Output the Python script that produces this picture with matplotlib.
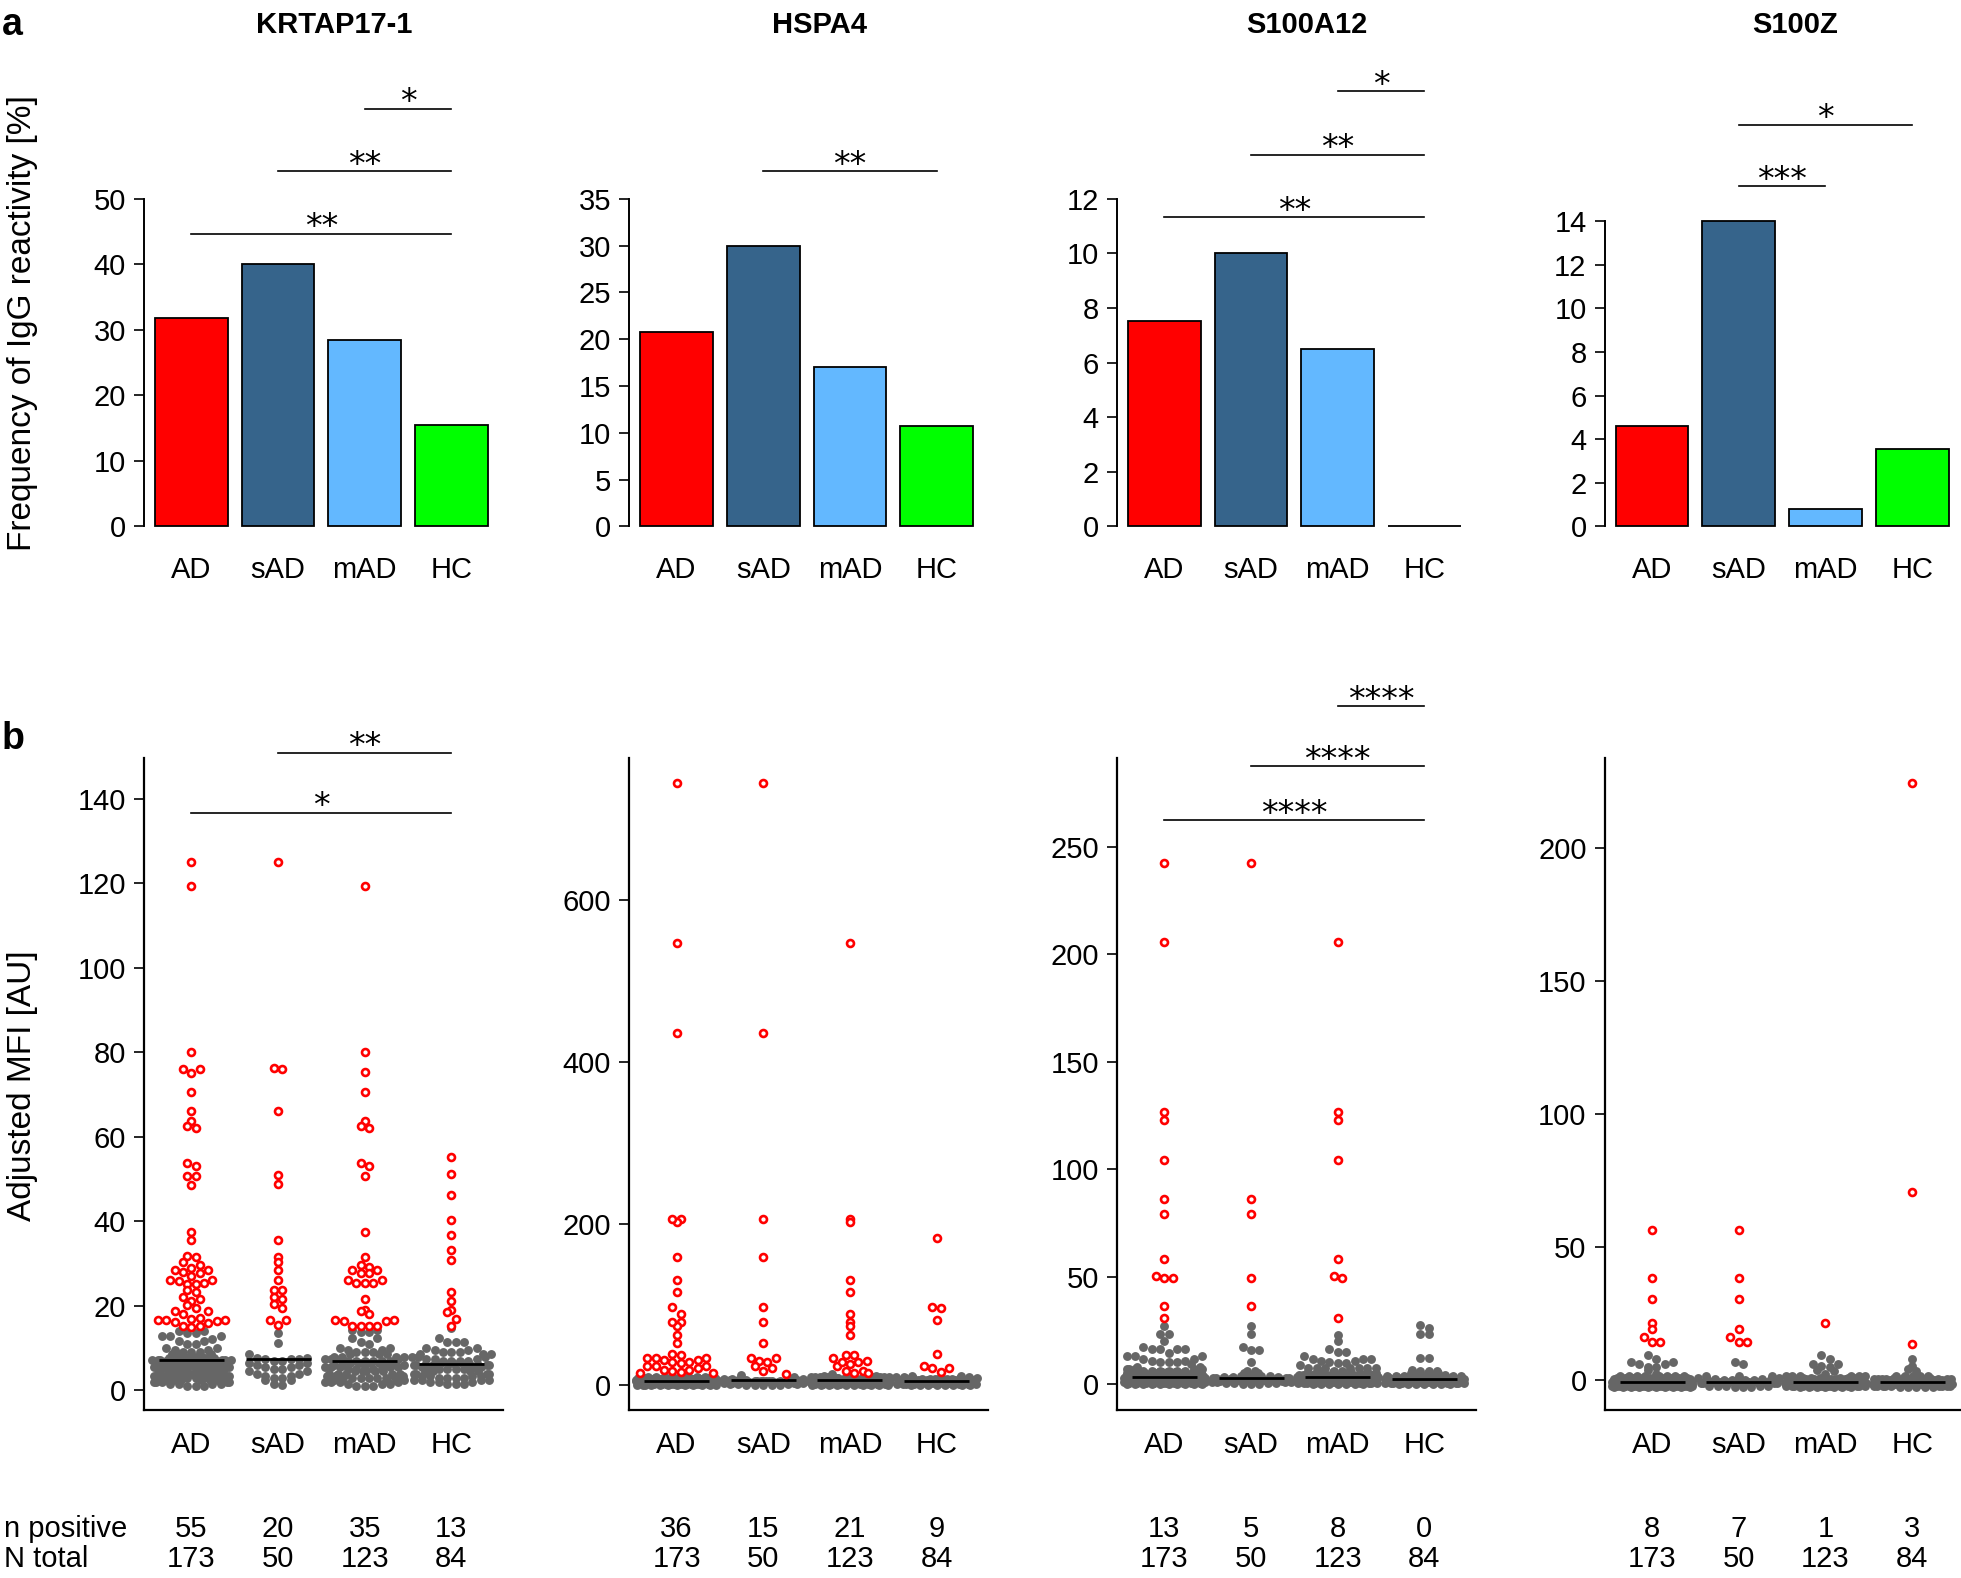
import numpy as np
import matplotlib
matplotlib.use("Agg")
import matplotlib.pyplot as plt
from matplotlib.transforms import blended_transform_factory

plt.rcParams['font.family'] = ['Liberation Sans', 'DejaVu Sans']

GROUPS = ["AD", "sAD", "mAD", "HC"]
PROTEINS = ["KRTAP17-1", "HSPA4", "S100A12", "S100Z"]
BAR_COLORS = ["#ff0000", "#36648b", "#63b8ff", "#00ff00"]

# positive sera (red rings), adjusted MFI per group
KRTAP_POS = [
    [125, 119.3, 80, 76, 75.2, 76, 70.6, 66, 63.7, 62.1, 62.5, 53.2, 53.8, 50.8, 50.8,
     48.6, 37.5, 35.6, 31.6, 31.7, 30.3, 29.6, 28.9, 28.6, 27.8, 28.0, 28.4, 27.0, 26.1,
     25.4, 26.1, 25.2, 25.2, 26.0, 23.7, 23.4, 22.0, 21.6, 21.2, 20.2, 19.4, 18.8, 18.8,
     18.0, 16.7, 16.4, 17.1, 16.1, 16.7, 16.9, 16.0, 16.6, 15.2, 15.2, 15.1],
    [125, 76, 76.2, 66, 51, 48.8, 35.6, 31.6, 30.3, 28.6, 26.1, 23.7, 23.7, 22, 21.6,
     20.4, 19.4, 16.7, 16.6, 15.4],
    [119.3, 80, 75.3, 70.6, 63.7, 62.1, 62.5, 53.2, 53.8, 50.8, 37.5, 31.6, 29.6, 28.6,
     28.6, 29.1, 27.8, 27.8, 26.1, 25.4, 25.4, 25.4, 26.1, 21.6, 19, 18.8, 18, 16.6, 16.5,
     16.5, 16.6, 15.2, 15.2, 15.2, 15.2],
    [55.2, 51.2, 46.3, 40.4, 36.8, 33.2, 30.9, 23.3, 21.2, 19.1, 18.5, 16.9, 15.2],
]
HSPA4_POS = [
    [744.8, 547.5, 436.5, 206, 202.2, 206, 158.6, 130.4, 115.5, 96.8, 88.6, 79, 73.8, 79,
     61.8, 52.3, 38.7, 37.9, 30.9, 27.6, 33.8, 33.8, 28.8, 33.8, 23.5, 21.4, 19.4, 19.4,
     23.5, 23.5, 28.8, 30.9, 15.2, 16.5, 17.3, 15.2],
    [744.8, 436.5, 206, 158.6, 96.8, 78.3, 52.3, 33.8, 30.5, 28.8, 33.8, 23.5, 18.5, 21.4, 14.4],
    [547.5, 206, 202.2, 130.4, 115.5, 88.6, 79, 73.8, 61.8, 37.9, 37.9, 34, 30.5, 28.4,
     26.8, 23.5, 18.5, 28.4, 16, 15.2, 17.3],
    [181.8, 97.6, 95.6, 81.2, 38.7, 23.5, 21.4, 21.4, 16.1],
]
S100A12_POS = [
    [242.3, 205.5, 126.5, 123, 104.2, 86.2, 79, 58.3, 50.2, 49.3, 49.6, 36.2, 30.7],
    [242.3, 86.2, 79, 49.6, 36.2],
    [205.5, 126.5, 123, 104.2, 58.3, 49.3, 50.2, 30.7],
    [],
]
S100Z_POS = [
    [56.3, 38.3, 30.6, 21.5, 19.3, 16.1, 14.4, 14.4],
    [56.3, 38.3, 30.6, 19.3, 16.1, 14.4, 14.4],
    [21.5],
    [224.4, 70.9, 13.6],
]

# negative sera (grey dots) read as (value, count) rows of the swarm
KRTAP_NEG = [
    [(1, 3), (1.5, 4), (2, 5), (2.5, 6), (3, 7), (3.5, 7), (4, 7), (4.5, 7), (5, 7), (5.5, 7),
     (6, 7), (6.5, 7), (7, 7), (7.3, 6), (7.6, 5), (8, 4), (8.5, 3), (9, 3), (9.5, 2), (10, 2),
     (11, 2), (11.6, 2), (12.2, 1), (12.9, 3), (13.5, 2), (14.1, 2)],
    [(1.3, 1), (1.5, 1), (2.5, 2), (3, 2), (3.5, 2), (4, 2), (4.5, 2), (5, 2), (5.5, 2), (6, 2),
     (6.5, 2), (7, 2), (7.4, 3), (7.7, 2), (8.5, 1), (11.2, 1), (13.6, 1)],
    [(1, 3), (1.5, 3), (2, 4), (2.5, 5), (3, 5), (3.5, 5), (4, 5), (4.5, 5), (5, 5), (5.5, 5),
     (6, 5), (6.5, 6), (7, 6), (7.5, 4), (8, 4), (8.5, 3), (9, 3), (9.5, 2), (10, 2), (11, 1),
     (11.5, 1), (12.5, 2), (13.8, 2), (14.3, 2)],
    [(1.5, 3), (2, 3), (2.5, 4), (3, 4), (3.5, 4), (4, 4), (4.5, 4), (5, 4), (5.5, 4), (6, 4),
     (6.1, 4), (6.5, 4), (7, 4), (7.5, 3), (8, 3), (8.5, 3), (9, 3), (9.5, 2), (10, 2),
     (11.5, 3), (12.4, 1), (14.7, 1)],
]
HSPA4_NEG = [
    [(0, 4), (1, 8), (2, 12), (3, 14), (4, 16), (5, 17), (6, 17), (7, 16), (8, 14), (9, 10),
     (10, 6), (11, 3)],
    [(0, 2), (1, 3), (2, 4), (3, 4), (4, 4), (5, 4), (6, 4), (7, 5), (8, 3), (10, 1), (13, 1)],
    [(0, 4), (1, 6), (2, 8), (3, 9), (4, 10), (5, 11), (6, 12), (7, 12), (8, 11), (9, 8),
     (10, 5), (11, 3), (12, 2), (14, 1)],
    [(0, 3), (1, 5), (2, 7), (3, 8), (4, 9), (5, 9), (6, 9), (7, 8), (8, 7), (9, 5), (10, 3),
     (12, 2)],
]
S100A12_NEG = [
    [(0, 10), (0.5, 10), (1, 13), (1.5, 13), (2, 13), (2.5, 12), (3, 11), (3.5, 10), (4, 10),
     (4.5, 9), (5, 8), (5.5, 7), (6, 6), (7, 5), (7.9, 2), (9.5, 1), (10.1, 1), (10.2, 2),
     (10.8, 2), (11.6, 2), (12.9, 3), (14.7, 1), (16.3, 4), (17.5, 1), (20.0, 1), (23.2, 2),
     (27.1, 1)],
    [(0, 3), (0.5, 4), (1, 4), (1.5, 4), (2, 4), (2.5, 4), (3, 4), (3.5, 3), (4, 3), (4.5, 2),
     (5, 2), (6, 2), (10.1, 1), (15.7, 2), (17.5, 1), (23.2, 1), (27.1, 1)],
    [(0, 7), (0.5, 8), (1, 9), (1.5, 9), (2, 9), (2.5, 9), (3, 9), (3.5, 8), (4, 8), (4.5, 6),
     (5, 5), (5.5, 4), (6, 2), (7.4, 7), (9.0, 1), (9.8, 2), (10.5, 1), (10.8, 2), (11.8, 3),
     (12.9, 1), (15, 2), (16.3, 1), (20.1, 1), (22.9, 1)],
    [(0, 7), (0.5, 8), (1, 8), (1.5, 8), (2, 8), (2.5, 8), (3, 7), (3.5, 6), (4, 5), (4.5, 4),
     (5, 3), (5.1, 2), (6, 3), (6.7, 1), (12.4, 2), (23.2, 2), (26.0, 1), (27.4, 1)],
]
S100Z_NEG = [
    [(-2.5, 10), (-2, 20), (-1.5, 25), (-1, 25), (-0.5, 25), (0, 20), (0.5, 12), (1, 10),
     (1.5, 8), (2.4, 1), (3.9, 1), (4.9, 1), (5.2, 1), (6.0, 2), (6.9, 2), (8.1, 1), (9.7, 1)],
    [(-2.5, 3), (-2, 5), (-1.5, 6), (-1, 6), (-0.5, 6), (0, 6), (0.5, 4), (1, 2), (1.5, 2),
     (1.8, 1), (6.2, 1), (7.0, 1)],
    [(-2.5, 7), (-2, 14), (-1.5, 18), (-1, 18), (-0.5, 18), (0, 15), (0.5, 10), (1, 7),
     (1.5, 6), (2.4, 1), (3.4, 1), (3.9, 1), (5.0, 1), (5.4, 1), (6.2, 2), (8.1, 1), (9.7, 1)],
    [(-2.5, 5), (-2, 9), (-1.5, 12), (-1, 12), (-0.5, 12), (0, 10), (0.5, 7), (1, 5), (1.5, 5),
     (3.4, 1), (4.4, 1), (5.4, 1), (8.1, 1)],
]

POS = [KRTAP_POS, HSPA4_POS, S100A12_POS, S100Z_POS]
NEG = [KRTAP_NEG, HSPA4_NEG, S100A12_NEG, S100Z_NEG]

# significance brackets: (group i, group j, label, height in axes fraction)
SIG_TOP = [
    [(0, 3, "**", 0.893), (1, 3, "**", 1.084), (2, 3, "*", 1.275)],
    [(1, 3, "**", 1.084)],
    [(0, 3, "**", 0.943), (1, 3, "**", 1.134), (2, 3, "*", 1.328)],
    [(1, 2, "***", 1.038), (1, 3, "*", 1.225)],
]
SIG_BOTTOM = [
    [(0, 3, "*", 0.916), (1, 3, "**", 1.008)],
    [],
    [(0, 3, "****", 0.904), (1, 3, "****", 0.987), (2, 3, "****", 1.079)],
    [],
]

TOP_TICKS = [np.arange(0, 51, 10), np.arange(0, 36, 5), np.arange(0, 13, 2), np.arange(0, 15, 2)]
TOP_YMAX = [50, 35, 12, 15.03]
BOT_TICKS = [np.arange(0, 141, 20), np.arange(0, 601, 200), np.arange(0, 251, 50), np.arange(0, 201, 50)]
BOT_YLIM = [(-4.74, 149.7), (-30.9, 776.3), (-12.2, 291.3), (-11.3, 233.8)]

DOT_PX = 8.4       # grid step of the swarm, px
CORRAL = 0.47      # half width of each group's corral, x units

GREY = "#666666"
FS = 21
STAR_FS = 24


def expand(rows):
    vals = [v for v, c in rows for _ in range(c)]
    return np.array(vals, dtype=float)


def center_swarm(ypx, y0, hw):
    """beeswarm 'center' layout: bin along y, centre each row, wrap at the corral"""
    xs = np.zeros(len(ypx))
    idx = np.round((ypx - y0) / DOT_PX).astype(int)
    for b in np.unique(idx):
        mem = np.where(idx == b)[0]
        mem = mem[np.argsort(ypx[mem], kind="stable")]
        k = len(mem)
        slots = (np.arange(k) - (k - 1) / 2.0) * DOT_PX
        slots = slots[np.lexsort((-np.sign(slots), np.abs(slots)))]
        xs[mem] = slots
    return ((xs + hw) % (2 * hw)) - hw


def add_sig(ax, sigs):
    tr = blended_transform_factory(ax.transData, ax.transAxes)
    for i, j, lab, yf in sigs:
        ax.plot([i + 1, j + 1], [yf, yf], color="black", lw=1.2, transform=tr, clip_on=False)
        ax.annotate(lab, xy=((i + j) / 2 + 1, yf), xycoords=tr, xytext=(0, -2.4),
                    textcoords="offset points", ha="center", va="baseline",
                    fontsize=STAR_FS, family="DejaVu Sans")


fig = plt.figure(figsize=(19.61, 15.78), dpi=100)

lefts = [115, 503, 893, 1283]
W, H = 1568.0, 1262.0
xlim = (0.452, 4.592)
xpos = np.arange(1, 5)

for p in range(4):
    left = lefts[p] / W
    width = 287 / W

    # ---- a: frequency bars ----
    ax = fig.add_axes([left, 1 - 421 / H, width, 262 / H])
    n_pos = np.array([len(g) for g in POS[p]])
    n_tot = np.array([len(g) + len(expand(r)) for g, r in zip(POS[p], NEG[p])])
    freq = 100.0 * n_pos / n_tot
    bars = ax.bar(xpos, freq, width=0.84, color=BAR_COLORS, edgecolor="black", linewidth=1.3)
    for b in bars:
        b.set_clip_on(False)
    ax.set_xlim(*xlim)
    ax.set_ylim(0, TOP_YMAX[p])
    ax.set_yticks(TOP_TICKS[p])
    ax.set_xticks(xpos, GROUPS)
    for s in ["top", "right", "bottom"]:
        ax.spines[s].set_visible(False)
    ax.spines["left"].set_bounds(0, TOP_TICKS[p][-1])
    ax.spines["left"].set_linewidth(1.4)
    ax.tick_params(axis="y", length=7, width=1.2, pad=6, labelsize=FS)
    ax.tick_params(axis="x", length=0, pad=21, labelsize=FS)
    add_sig(ax, SIG_TOP[p])
    ax.text(0.53, 1.53, PROTEINS[p], transform=ax.transAxes, ha="center", va="center",
            fontsize=FS, fontweight="bold")

    # ---- b: adjusted MFI swarm ----
    bx = fig.add_axes([left, 1 - 1128 / H, width, 522 / H])
    bx.set_xlim(*xlim)
    bx.set_ylim(*BOT_YLIM[p])
    bx.set_yticks(BOT_TICKS[p])
    bx.set_xticks(xpos, GROUPS)
    for s in ["top", "right"]:
        bx.spines[s].set_visible(False)
    for s in ["left", "bottom"]:
        bx.spines[s].set_linewidth(1.6)
    bx.tick_params(axis="y", length=7, width=1.2, pad=6, labelsize=FS)
    bx.tick_params(axis="x", length=0, pad=15, labelsize=FS)

    x_unit = bx.transData.transform([[1, 0]])[0, 0] - bx.transData.transform([[0, 0]])[0, 0]
    y0 = bx.transData.transform([[0, 0]])[0, 1]
    tr = blended_transform_factory(bx.transData, bx.transAxes)
    for g in range(4):
        pos = np.array(POS[p][g], dtype=float)
        neg = expand(NEG[p][g])
        vals = np.concatenate([pos, neg])
        red = np.concatenate([np.ones(len(pos), bool), np.zeros(len(neg), bool)])
        ypx = bx.transData.transform(np.column_stack([np.full(len(vals), g + 1.0), vals]))[:, 1]
        off = center_swarm(ypx, y0, CORRAL * x_unit) / x_unit
        med = np.median(vals)
        bx.plot(g + 1 + off[~red], vals[~red], "o", ms=6.4, color=GREY, mec="none",
                zorder=3, clip_on=False)
        bx.hlines(med, g + 1 - 0.375, g + 1 + 0.375, color="black", lw=2, zorder=3.5)
        bx.plot(g + 1 + off[red], vals[red], "o", ms=5.0, mfc="white", mec="#ff0000",
                mew=1.9, zorder=4, clip_on=False)
        bx.text(g + 1, -0.182, str(len(pos)), transform=tr, ha="center", va="center", fontsize=FS)
        bx.text(g + 1, -0.228, str(len(vals)), transform=tr, ha="center", va="center", fontsize=FS)

    add_sig(bx, SIG_BOTTOM[p])

fig.text(10 / W, 1 - 20 / H, "a", fontsize=27, fontweight="bold", ha="center", va="center")
fig.text(10 / W, 1 - 591 / H, "b", fontsize=27, fontweight="bold", ha="center", va="center")
fig.text(18 / W, 1 - 258.5 / H, "Frequency of IgG reactivity [%]", rotation=90,
         fontsize=24, ha="center", va="center")
fig.text(18 / W, 1 - 868.5 / H, "Adjusted MFI [AU]", rotation=90, fontsize=24,
         ha="center", va="center")
fig.text(3 / W, 1 - 1223 / H, "n positive", fontsize=FS, ha="left", va="center")
fig.text(3 / W, 1 - 1247 / H, "N total", fontsize=FS, ha="left", va="center")

fig.savefig("out.png", dpi=100, facecolor="white")
